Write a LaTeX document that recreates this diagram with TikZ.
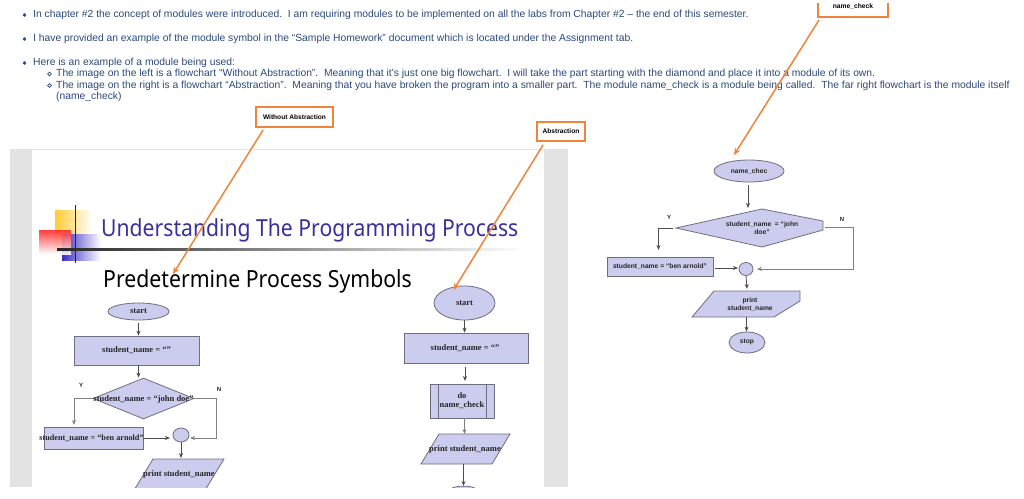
\documentclass[tikz,border=0pt]{standalone}
\usepackage{fontspec}
\setmainfont{Liberation Sans}
\newfontfamily\serifbody{Liberation Serif}
\newfontfamily\titlefont[FakeStretch=0.9]{Noto Sans}
\usetikzlibrary{shapes.geometric,arrows.meta}
\definecolor{bodyblue}{HTML}{2B4A7C}
\definecolor{lav}{HTML}{CCCCEE}
\definecolor{edge}{HTML}{6E6E80}
\definecolor{callout}{HTML}{F0843C}
\definecolor{slidegray}{HTML}{E3E3E3}
\definecolor{titleblue}{HTML}{3A309C}
\definecolor{logoy}{HTML}{FFCC33}
\definecolor{logob}{HTML}{3B2FC0}
\definecolor{logor}{HTML}{FF2A2A}
\tikzset{
  x=1pt,y=-1pt,
  bodyline/.style={anchor=west,inner sep=0,text=bodyblue,font=\fontsize{10.32}{11}\selectfont},
  bigbullet/.style={circle,fill=bodyblue,inner sep=0,minimum size=3.8pt},
  subbullet/.style={circle,draw=bodyblue,line width=.7pt,inner sep=0,minimum size=3.6pt},
  flowfill/.style={fill=lav,draw=edge,line width=.8pt},
  ellbox/.style={ellipse,flowfill,inner sep=0},
  rectbox/.style={rectangle,flowfill,inner sep=0},
  dmbox/.style={diamond,flowfill,inner sep=0},
  stext/.style={inner sep=0,align=center,font=\serifbody\bfseries\fontsize{8.5}{9}\selectfont,text=black!85},
  mtext/.style={inner sep=0,align=center,font=\bfseries\fontsize{6.7}{8}\selectfont,text=black!85},
  yn/.style={inner sep=0,font=\bfseries\fontsize{6}{7}\selectfont,text=black!85},
  flow/.style={draw=black!70,line width=.8pt,-{Stealth[length=5pt,width=4pt]}},
  flowgray/.style={flow,draw=black!50,line width=1pt},
  calloutbox/.style={rectangle,draw=callout,fill=white,line width=1.8pt,inner sep=0,font=\bfseries\fontsize{6.6}{7.5}\selectfont,text=black},
  calloutarrow/.style={draw=callout,line width=1.5pt,-{Stealth[length=7pt,width=6pt]}},
}
\begin{document}
\begin{tikzpicture}
\useasboundingbox (0,0) rectangle (1024,498);
\fill[white] (0,0) rectangle (1024,498);
% body text
\node[bigbullet] (b1) at (24.5,15) {};
\node[bodyline] (t1) at (33,15) {In chapter \#2 the concept of modules were introduced.\ \ I am requiring modules to be implemented on all the labs from Chapter \#2 – the end of this semester.};
\node[bigbullet] (b2) at (24.5,39) {};
\node[bodyline] (t2) at (33,39) {I have provided an example of the module symbol in the “Sample Homework” document which is located under the Assignment tab.};
\node[bigbullet] (b3) at (24.5,63) {};
\node[bodyline] (t3) at (33,63) {Here is an example of a module being used:};
\node[subbullet] (b4) at (49.5,74) {};
\node[bodyline] (t4) at (56,74) {The image on the left is a flowchart “Without Abstraction”.\ \ Meaning that it’s just one big flowchart.\ \ I will take the part starting with the diamond and place it into a module of its own.};
\node[subbullet] (b5) at (49.5,85.5) {};
\node[bodyline] (t5) at (56,85.5) {The image on the right is a flowchart “Abstraction”.\ \ Meaning that you have broken the program into a smaller part.\ \ The module name\_check is a module being called.\ \ The far right flowchart is the module itself};
\node[bodyline] (t6) at (56,97) {(name\_check)};
% slide
\fill[slidegray] (10,149) rectangle (568,487);
\fill[white] (32,150) rectangle (544,487);
% logo
\shade[left color=logoy,middle color=logoy,right color=white] (55,210) rectangle (92,250);
\shade[left color=logob,middle color=logob,right color=white] (62,234) rectangle (101,260);
\shade[shading angle=335,top color=logor,bottom color=white,fill opacity=.9] (39,230) rectangle (71,254);
\fill[black!85] (74.6,205) rectangle (75.8,263);
\shade[left color=black!85,right color=white] (57,248.8) rectangle (525,250);
\node[anchor=base west,inner sep=0,text=titleblue,font=\titlefont\fontsize{23.5}{26}\selectfont] (title) at (101,236.5) {Understanding The Programming Process};
\node[anchor=base west,inner sep=0,text=black,font=\titlefont\fontsize{23.6}{25}\selectfont] (sub) at (103,287) {Predetermine Process Symbols};
% left flowchart
\begin{scope}
\clip (32,150) rectangle (544,487);
\fill[lav,draw=edge,line width=.8pt] (153,459) -- (224,459) -- (200.3,498) -- (129.3,498) -- cycle;
\node[ellbox,minimum width=61pt,minimum height=17pt] (ls) at (138.5,311.5) {};
\node[stext] (lst) at (ls) {start};
\node[rectbox,minimum width=125pt,minimum height=29pt] (lr) at (136.5,350.5) {};
\node[stext] (lrt) at (lr) {student\_name = “”};
\node[dmbox,minimum width=101pt,minimum height=41pt] (ld) at (143.5,398.5) {};
\node[rectbox,minimum width=99pt,minimum height=22pt] (lb) at (93.5,438) {};
\node[ellipse,flowfill,inner sep=0,minimum width=16pt,minimum height=14pt] (lc) at (181,435) {};
\coordinate (lyb) at (74,398.5);
\coordinate (lye) at (74,425);
\coordinate (lnb) at (216,398.5);
\coordinate (lne) at (216,438);
\coordinate (lnend) at (190,438);
\coordinate (lbend) at (170,438);
\coordinate (lpt) at (181,458);
\draw[flow] (ls.south) ++(0,3) -- (ls.south |- lr.north);
\draw[flow] (lr.south -| ls.south) -- (ls.south |- ld.north);
\draw[flowgray] (ld.west) -- (lyb) -- (lye);
\draw[flowgray] (ld.east) -- (lnb) -- (lne) -- (lnend);
\draw[flow] (lb.east) -- (lbend);
\draw[flow] (lc.south) -- (lpt);
\node[stext] (ldt) at (143.5,399) {student\_name = “john doe”};
\node[stext,font=\serifbody\bfseries\fontsize{8.2}{9}\selectfont] (lbt) at (91.5,438) {student\_name = “ben arnold”};
\node[stext] (lpn) at (179,474) {print student\_name};
\node[yn] (ly) at (81,385) {Y};
\node[yn] (ln) at (219,389) {N};
% middle flowchart
\fill[lav,draw=edge,line width=.8pt] (439,434) -- (510,434) -- (492,464) -- (421,464) -- cycle;
\node[ellbox,minimum width=61pt,minimum height=34pt] (ms) at (464.5,303) {};
\node[stext] (mst) at (ms) {start};
\node[rectbox,minimum width=124pt,minimum height=30pt] (mr) at (466,348) {};
\node[stext] (mrt) at (465,348) {student\_name = “”};
\node[rectbox,minimum width=64pt,minimum height=34pt] (mm) at (462,401) {};
\draw[edge,line width=.8pt] (438,384) -- (438,418) (486,384) -- (486,418);
\node[stext] (mmt) at (mm) {do\\name\_check};
\node[stext] (mpt) at (465,449) {print student\_name};
\coordinate (mpb) at (463.5,464);
\coordinate (mpe) at (463.5,486);
\coordinate (mmb) at (465,367);
\coordinate (mme) at (465,381);
\coordinate (mpn) at (464.5,434);
\draw[flow] (ms.south) -- (ms.south |- mr.north);
\draw[flow] (mmb) -- (mme);
\draw[flowgray] (mm.south -| mpn) -- (mpn);
\draw[flow] (mpb) -- (mpe);
\fill[lav,draw=edge,line width=.8pt] (452,488) .. controls (458,485.5) and (469,485.5) .. (475,488);
\end{scope}
% right flowchart
\node[ellbox,minimum width=70pt,minimum height=22pt] (rs) at (749,171) {};
\node[mtext] (rst) at (rs) {name\_chec};
\path[fill=lav,draw=edge,line width=.8pt] (676,228) -- (762,209) -- (823,221) -- (823,230) -- (762,247) -- cycle;
\node[mtext] (rdt) at (762,228) {student\_name\ \ = “john\\doe”};
\node[rectbox,minimum width=106pt,minimum height=19pt] (rb) at (660,266.5) {};
\node[mtext] (rbt) at (rb) {student\_name\ = “ben arnold”};
\node[ellipse,flowfill,inner sep=0,minimum width=14pt,minimum height=13pt] (rc) at (746,269) {};
\path[fill=lav,draw=edge,line width=.8pt] (714,291) -- (800,291) -- (800,301) -- (774,317) -- (692,317) -- cycle;
\node[mtext] (rpt) at (750,304) {print\\student\_name};
\node[ellbox,minimum width=36pt,minimum height=21pt] (re) at (747,342.5) {};
\node[mtext] (ret) at (re) {stop};
\coordinate (rdtop) at (748,208);
\coordinate (rdl) at (673,228);
\coordinate (rybend) at (658.5,228);
\coordinate (rye) at (658.5,250);
\coordinate (rdr) at (825,227);
\coordinate (rnb) at (853,227);
\coordinate (rnc) at (853,269);
\coordinate (rne) at (757,269);
\coordinate (rpi) at (747,289);
\coordinate (rpo) at (746.5,317);
\coordinate (rcb) at (715,268);
\coordinate (rce) at (738,268);
\draw[flow] (rs.south) ++(-1,3) -- (rdtop);
\draw[flow] (rdl) -- (rybend) -- (rye);
\draw[flowgray] (rdr) -- (rnb) -- (rnc) -- (rne);
\draw[flow] (rcb) -- (rce);
\draw[flow] (rc.south) -- (rpi);
\draw[flow] (rpo) -- (re.north -| rpo);
\node[yn] (ry) at (669,217) {Y};
\node[yn] (rn) at (842,219) {N};
% callouts
\node[calloutbox,minimum width=77pt,minimum height=20pt] (c1) at (294.5,117) {Without Abstraction};
\node[calloutbox,minimum width=48pt,minimum height=19pt] (c2) at (561,131.5) {Abstraction};
\begin{scope}
\clip (800,3) rectangle (900,30);
\node[calloutbox,minimum width=70pt,minimum height=30pt] (c3) at (853,2) {};
\node[inner sep=0,font=\bfseries\fontsize{6.7}{7}\selectfont,text=black] (c3t) at (853,6.5) {name\_check};
\end{scope}
\coordinate (c1e) at (173,274);
\coordinate (c2e) at (453.5,290);
\coordinate (c3e) at (734,155);
\draw[calloutarrow] (c1.south west) ++(8,2) -- (c1e);
\draw[calloutarrow] (c2.south west) ++(7,3) -- (c2e);
\draw[calloutarrow] (c3.south west) ++(2,2) -- (c3e);
\end{tikzpicture}
\end{document}
